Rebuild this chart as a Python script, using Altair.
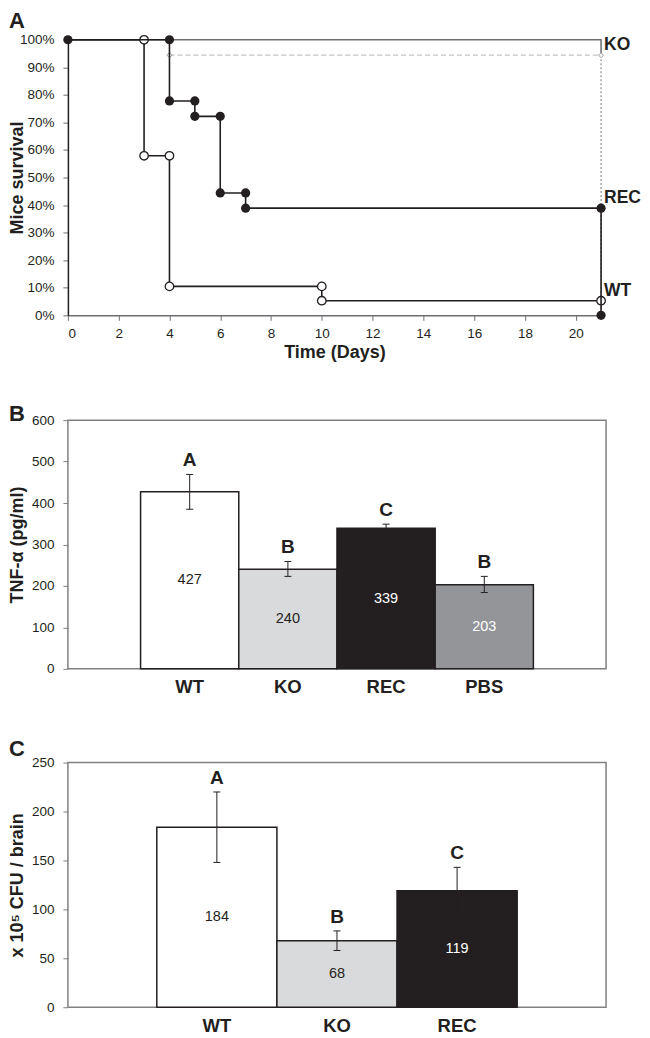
import altair as alt
import pandas as pd

FONT = "Liberation Sans"
INK = "#231f20"
GRAY = "#808080"
DARKGRAY = "#6d6e71"

# ---------------- Panel A: survival ----------------
wt_days = [0, 3, 4, 10, 21]
wt_surv = [100, 57.9, 10.5, 5.3, 5.3]
rec_days = [0, 4, 5, 6, 7, 21, 21]
rec_surv = [100, 77.8, 72.2, 44.4, 38.9, 38.9, 0]
ko_days = [0, 21, 21]
ko_surv = [100, 100, 94.4]
ko_dash_days = [4, 21]
ko_dash_surv = [94.4, 94.4]
ko_dot_days = [21, 21]
ko_dot_surv = [94.4, 0]
wt_mark_days = [3, 3, 4, 4, 10, 10, 21]
wt_mark_surv = [100, 57.9, 57.9, 10.5, 10.5, 5.3, 5.3]
rec_mark_days = [0, 4, 4, 5, 5, 6, 6, 7, 7, 21, 21]
rec_mark_surv = [100, 100, 77.8, 77.8, 72.2, 72.2, 44.4, 44.4, 38.9, 38.9, 0]
end_labels = ["KO", "REC", "WT"]
end_label_days = [21, 21, 21]
end_label_surv = [94.4, 38.9, 5.3]
x_ticks_a = list(range(0, 21, 2))
y_ticks_a = list(range(0, 101, 10))

# ---------------- Panel B: TNF-alpha ----------------
tnf_groups = ["WT", "KO", "REC", "PBS"]
tnf_values = [427, 240, 339, 203]
tnf_low = [385, 223, 330, 184]
tnf_high = [469, 259, 349, 223]
tnf_letters = ["A", "B", "C", "B"]
tnf_ticks = list(range(0, 601, 100))

# ---------------- Panel C: CFU ----------------
cfu_groups = ["WT", "KO", "REC"]
cfu_values = [184, 68, 119]
cfu_low = [148, 58, 95]
cfu_high = [220, 78, 143]
cfu_letters = ["A", "B", "C"]
cfu_ticks = list(range(0, 251, 50))

BAR_FILLS = {"WT": "#ffffff", "KO": "#d9dadb", "REC": "#231f20", "PBS": "#939598"}


def frame(days, surv):
    return pd.DataFrame({"day": days, "surv": surv, "i": list(range(len(days)))})


XA = alt.X("day:Q", scale=alt.Scale(domain=[0, 21], nice=False, zero=True),
           axis=alt.Axis(values=x_ticks_a, title="Time (Days)", grid=False,
                         domainColor=DARKGRAY, domainWidth=1.5, tickColor=DARKGRAY,
                         tickSize=5, labelPadding=6, titlePadding=4))
YA = alt.Y("surv:Q", scale=alt.Scale(domain=[0, 100], nice=False),
           axis=alt.Axis(values=y_ticks_a, title="Mice survival",
                         labelExpr="datum.value + '%'", grid=False,
                         domainColor=INK, domainWidth=1.5, tickColor=DARKGRAY,
                         tickSize=5, labelPadding=9, titleX=-50,
                         titleBaseline="middle"))

ko_line = alt.Chart(frame(ko_days, ko_surv)).mark_line(
    color=DARKGRAY, strokeWidth=1.5, interpolate="step-after").encode(XA, YA, order="i:Q")
ko_dash = alt.Chart(frame(ko_dash_days, ko_dash_surv)).mark_line(
    color="#c4c4c4", strokeWidth=1.3, strokeDash=[5, 3]).encode(XA, YA, order="i:Q")
ko_dot = alt.Chart(frame(ko_dot_days, ko_dot_surv)).mark_line(
    color="#9a9a9a", strokeWidth=1.3, strokeDash=[2, 2]).encode(XA, YA, order="i:Q")
ko_pts = alt.Chart(frame(ko_dash_days, ko_dash_surv)).mark_point(
    shape="diamond", fill="white", stroke="#9a9a9a", size=25, strokeWidth=1,
    opacity=1).encode(XA, YA)
wt_line = alt.Chart(frame(wt_days, wt_surv)).mark_line(
    color=INK, strokeWidth=1.6, interpolate="step-after").encode(XA, YA, order="i:Q")
wt_pts = alt.Chart(frame(wt_mark_days, wt_mark_surv)).mark_point(
    shape="circle", fill="white", stroke=INK, strokeWidth=1.3, size=72,
    opacity=1, fillOpacity=1).encode(XA, YA)
rec_line = alt.Chart(frame(rec_days, rec_surv)).mark_line(
    color=INK, strokeWidth=1.6, interpolate="step-after").encode(XA, YA, order="i:Q")
rec_pts = alt.Chart(frame(rec_mark_days, rec_mark_surv)).mark_circle(
    color=INK, size=85, opacity=1).encode(XA, YA)
end_text = alt.Chart(pd.DataFrame({"day": end_label_days, "surv": end_label_surv,
                                   "label": end_labels})).mark_text(
    align="left", baseline="middle", dx=3, dy=-10, fontSize=17.5,
    fontWeight="bold", color=INK).encode(XA, YA, text="label:N")

panel_a = alt.layer(ko_line, ko_dash, ko_dot, ko_pts, wt_line, wt_pts,
                    rec_line, rec_pts, end_text).properties(
    width=534, height=276,
    view=alt.ViewBackground(stroke="transparent"),
    title=alt.TitleParams(text="A", anchor="start", frame="group", dx=-59,
                          fontSize=22, fontWeight="bold", offset=0, color=INK))


def bar_panel(groups, values, low, high, letters, ticks, ymax, ytitle, letter,
              offset, height):
    data = pd.DataFrame({"group": groups, "value": values, "low": low,
                         "high": high, "letter": letters})
    fills = [BAR_FILLS[g] for g in groups]
    X = alt.X("group:N", sort=groups,
              scale=alt.Scale(paddingInner=0, paddingOuter=0.74),
              axis=alt.Axis(title=None, labelAngle=0, ticks=False, domain=False,
                            labelFontSize=18.5, labelFontWeight="bold",
                            labelPadding=9))
    ys = alt.Scale(domain=[0, ymax], nice=False)
    ya = alt.Axis(values=ticks, title=ytitle, grid=False, domain=False,
                  tickSize=5, labelPadding=9, titleX=-50, titleBaseline="middle")
    base = alt.Chart(data)
    bars = base.mark_bar(stroke=INK, strokeWidth=1.5).encode(
        X, alt.Y("value:Q", scale=ys, axis=ya),
        color=alt.Color("group:N", scale=alt.Scale(domain=groups, range=fills),
                        legend=None))
    rule = base.mark_rule(color=INK, strokeWidth=1).encode(
        X, alt.Y("low:Q", scale=ys, axis=ya), y2="high:Q")
    cap_lo = base.mark_tick(color=INK, size=7, thickness=1, opacity=1).encode(
        X, alt.Y("low:Q", scale=ys, axis=ya))
    cap_hi = base.mark_tick(color=INK, size=7, thickness=1, opacity=1).encode(
        X, alt.Y("high:Q", scale=ys, axis=ya))
    lett = base.mark_text(baseline="alphabetic", dy=-8, fontSize=19,
                          fontWeight="bold", color=INK).encode(
        X, alt.Y("high:Q", scale=ys, axis=ya), text="letter:N")
    vals = base.transform_calculate(mid="datum.value / 2").mark_text(
        baseline="middle", fontSize=14.5).encode(
        X, alt.Y("mid:Q", scale=ys, axis=ya), text="value:Q",
        color=alt.condition(alt.FieldOneOfPredicate(field="group", oneOf=["REC", "PBS"]),
                            alt.value("white"), alt.value(INK)))
    return alt.layer(bars, rule, cap_lo, cap_hi, lett, vals).properties(
        width=539, height=height,
        title=alt.TitleParams(text=letter, anchor="start", frame="group", dx=-59,
                              fontSize=22, fontWeight="bold", offset=offset,
                              color=INK))


panel_b = bar_panel(tnf_groups, tnf_values, tnf_low, tnf_high, tnf_letters,
                    tnf_ticks, 600, "TNF-α (pg/ml)", "B", -13, 249)
panel_c = bar_panel(cfu_groups, cfu_values, cfu_low, cfu_high, cfu_letters,
                    cfu_ticks, 250, "x 10⁵ CFU / brain", "C", -5, 245)

chart = alt.vconcat(panel_a, panel_b, panel_c, spacing=39).properties(
    padding=0
).configure(font=FONT).configure_axis(
    labelFont=FONT, titleFont=FONT, labelFontSize=13.5, titleFontSize=18,
    titleFontWeight="bold", labelColor=INK, titleColor=INK, tickColor=GRAY,
    domainColor=GRAY
).configure_view(stroke=GRAY, strokeWidth=1.5).configure_title(font=FONT)

chart.save("out.html", embed_options={"renderer": "svg", "actions": False})
